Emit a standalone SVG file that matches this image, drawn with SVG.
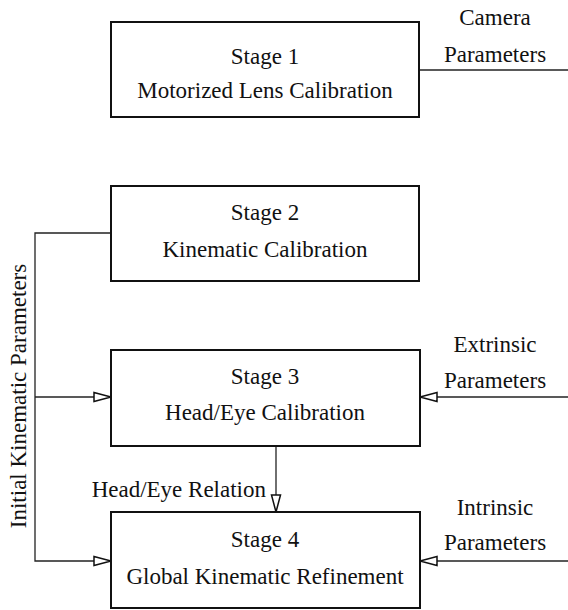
<svg xmlns="http://www.w3.org/2000/svg" width="568" height="610" viewBox="0 0 568 610">
<style>
.box{fill:#fff;stroke:#111;stroke-width:2}
.t{font-size:23px;fill:#111;text-anchor:middle}
.c{fill:none;stroke:#222;stroke-width:1.3}
</style>
<defs>
<marker id="arr" markerUnits="userSpaceOnUse" markerWidth="20" markerHeight="12" refX="18" refY="6" orient="auto" viewBox="0 0 20 12">
<path d="M1,1.5 L18,6 L1,10.5 Z" fill="#fff" stroke="#111" stroke-width="1.5"/>
</marker>
</defs>
<rect width="568" height="610" fill="#fff"/>
<g id="connectors">
<path class="c" d="M419,70 H568"/>
<path class="c" d="M111,233 H35 V561 H111" marker-end="url(#arr)"/>
<path class="c" d="M35,397 H111" marker-end="url(#arr)"/>
<path class="c" d="M568,397 H420" marker-end="url(#arr)"/>
<path class="c" d="M568,561 H420" marker-end="url(#arr)"/>
<path class="c" d="M276,446 V512" marker-end="url(#arr)"/>
</g>
<g font-family="Liberation Serif, Times New Roman, DejaVu Serif, serif">
<g id="stage1">
<rect class="box" x="111" y="22" width="308" height="95"/>
<text class="t" x="265" y="64">Stage 1</text>
<text class="t" x="265" y="98">Motorized Lens Calibration</text>
</g>
<g id="stage2">
<rect class="box" x="111" y="186" width="308" height="95"/>
<text class="t" x="265" y="220">Stage 2</text>
<text class="t" x="265" y="257">Kinematic Calibration</text>
</g>
<g id="stage3">
<rect class="box" x="111" y="350" width="309" height="96"/>
<text class="t" x="265" y="384">Stage 3</text>
<text class="t" x="265" y="420">Head/Eye Calibration</text>
</g>
<g id="stage4">
<rect class="box" x="111" y="512" width="309" height="96"/>
<text class="t" x="265" y="547">Stage 4</text>
<text class="t" x="265" y="584">Global Kinematic Refinement</text>
</g>
<g id="labels">
<text class="t" x="495" y="25">Camera</text>
<text class="t" x="495" y="62">Parameters</text>
<text class="t" x="495" y="352">Extrinsic</text>
<text class="t" x="495" y="388">Parameters</text>
<text class="t" x="495" y="515">Intrinsic</text>
<text class="t" x="495" y="550">Parameters</text>
<text class="t" x="266" y="497" style="text-anchor:end">Head/Eye Relation</text>
<text class="t" transform="translate(26,396) rotate(-90)">Initial Kinematic Parameters</text>
</g>
</g>
</svg>
